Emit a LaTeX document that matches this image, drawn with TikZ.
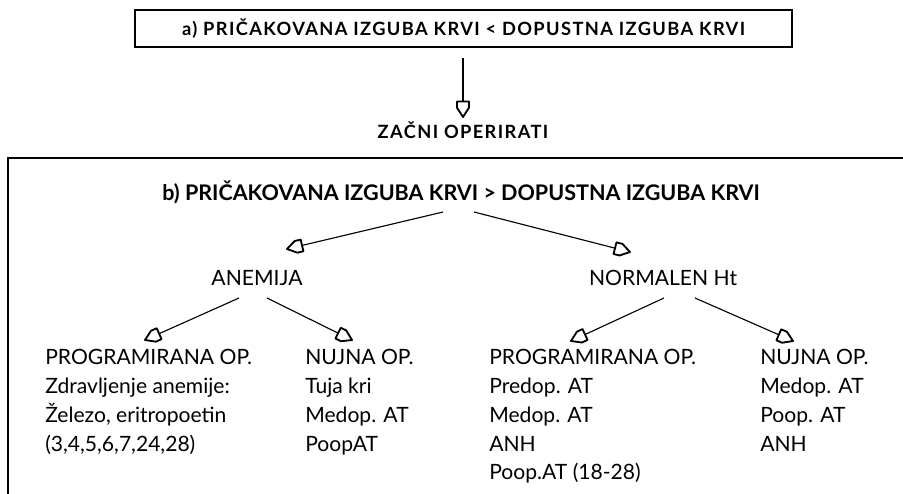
\documentclass[tikz,border=0pt]{standalone}
\usepackage{fontspec}
\setmainfont{Lato}
\usetikzlibrary{positioning,calc,arrows.meta}

% open five-sided arrow head
\pgfdeclarearrow{
  name=Nib,
  parameters={\the\pgfarrowlength,\the\pgfarrowwidth},
  setup code={
    \pgfarrowssettipend{0pt}
    \pgfarrowssetlineend{-\pgfarrowlength}
    \pgfarrowssetbackend{-\pgfarrowlength}
    \pgfarrowssavethe\pgfarrowlength
    \pgfarrowssavethe\pgfarrowwidth
  },
  drawing code={
    \pgfsetlinewidth{1.3pt}
    \pgfsetroundjoin
    \pgfpathmoveto{\pgfpoint{0pt}{0pt}}
    \pgfpathlineto{\pgfpoint{-0.6\pgfarrowlength}{0.5\pgfarrowwidth}}
    \pgfpathlineto{\pgfpoint{-\pgfarrowlength}{0.5\pgfarrowwidth}}
    \pgfpathlineto{\pgfpoint{-\pgfarrowlength}{-0.5\pgfarrowwidth}}
    \pgfpathlineto{\pgfpoint{-0.6\pgfarrowlength}{-0.5\pgfarrowwidth}}
    \pgfpathclose
    \pgfusepathqstroke
  },
  defaults={length=11pt,width=8.5pt}
}

\tikzset{
  arr/.style={-{Nib}, line width=0.8pt},
  hdr/.style={font=\bfseries\fontsize{13}{15}\selectfont\addfontfeature{LetterSpace=7.5}, inner sep=0pt},
  lbl/.style={font=\fontsize{15}{20.5}\selectfont, inner sep=0pt},
  blk/.style={lbl, align=left, anchor=north west},
}

\begin{document}
\begin{tikzpicture}[x=0.025cm,y=-0.025cm]
\useasboundingbox (0,0) rectangle (903,494);

% case a)
\node[hdr, draw, line width=1.7pt, minimum width=16.425cm, minimum height=0.925cm] (casea) at (463.5,28.5)
  {a) PRIČAKOVANA IZGUBA KRVI < DOPUSTNA IZGUBA KRVI};
\node[hdr] (start) at (463,130) {ZAČNI OPERIRATI};
\draw[arr] ($(start.north |- casea.south)+(0,10)$) -- ($(start.center)+(0,-13)$);

% case b)
\draw[line width=1.8pt] (903,158) -- (8,158) -- (8,494);
\node[hdr, font=\bfseries\fontsize{15.3}{17}\selectfont] (caseb) at (461,192)
  {b) PRIČAKOVANA IZGUBA KRVI > DOPUSTNA IZGUBA KRVI};

\node[lbl] (anem) at (257,278) {ANEMIJA};
\node[lbl] (norm) at (663,278) {NORMALEN Ht};

\node[blk] (prog1) at (45,349) {PROGRAMIRANA OP.\\Zdravljenje anemije:\\Železo, eritropoetin\\(3,4,5,6,7,24,28)};
\node[blk] (nujna1) at (305,349) {NUJNA OP.\\Tuja kri\\Medop. AT\\PoopAT};
\node[blk] (prog2) at (489,349) {PROGRAMIRANA OP.\\Predop. AT\\Medop. AT\\ANH\\Poop.AT (18-28)};
\node[blk] (nujna2) at (760,349) {NUJNA OP.\\Medop. AT\\Poop. AT\\ANH};

\draw[arr] ($(caseb.center)+(-18,20)$) -- ($(anem.center)+(30,-29)$);
\draw[arr] ($(caseb.center)+(13,20)$) -- ($(norm.center)+(-33,-26)$);
\draw[arr] ($(anem.center)+(-18,20)$) -- ($(prog1.north west)+(100,-9)$);
\draw[arr] ($(anem.center)+(10,20)$) -- ($(nujna1.north west)+(47,-9)$);
\draw[arr] ($(norm.center)+(1,20)$) -- ($(prog2.north west)+(82,-8)$);
\draw[arr] ($(norm.center)+(32,20)$) -- ($(nujna2.north west)+(33,-8)$);
\end{tikzpicture}
\end{document}
